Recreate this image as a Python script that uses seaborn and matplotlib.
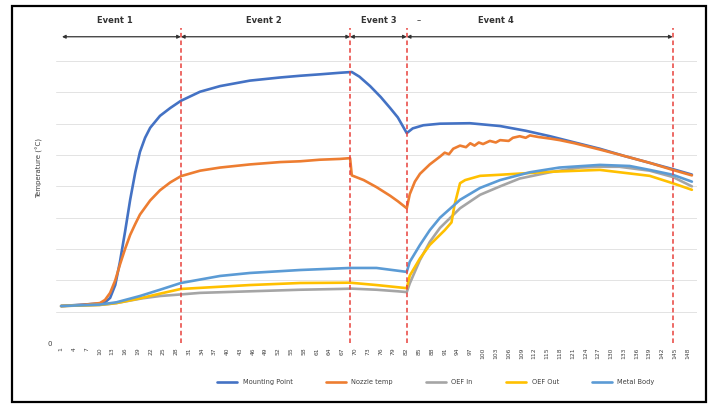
import matplotlib
matplotlib.use("Agg")
import matplotlib.pyplot as plt
from matplotlib.patches import Rectangle
import seaborn as sns

sns.set_style("white")
plt.rcParams["font.family"] = ["DejaVu Sans"]

# ---- data (sample index vs temperature) ----
mount_x = [1, 6, 10, 11.3, 12.5, 13.7, 14.8, 16, 17.2, 18.4, 19.5, 20.7, 21.9, 24.2, 26.6, 29.1,
           33.6, 38.3, 45.3, 52.4, 57.1, 61.7, 66.4, 69.2, 71, 73.5, 76, 78.2, 80, 82.1, 83.5,
           86, 89.9, 96.9, 104, 110, 115.7, 121.5, 127.4, 133, 139.1, 144.5, 149]
mount_y = [23.6, 24.5, 25.2, 26, 28.8, 37, 51.8, 71, 91.4, 109, 122, 131, 137.4, 145, 150, 154.6,
           160.4, 164, 167.5, 169.5, 170.6, 171.5, 172.5, 173, 170, 164, 157, 150, 144, 134, 137,
           139, 140, 140.3, 138.5, 135.5, 132, 128, 124, 119.5, 115, 111, 107.5]

nozzle_x = [1, 6, 10.1, 11.3, 12.5, 13.7, 14.8, 16, 17.2, 18.4, 19.5, 21.9, 24.2, 26.6, 29.1, 33.6,
            38.3, 45.3, 52.4, 57.1, 61.7, 66.4, 68.8, 69.2, 72, 75, 78.2, 80, 82.1, 82.8, 84,
            85.2, 87.5, 89.9, 91, 92, 93, 94.6, 96, 97, 98, 99, 100, 101.6, 103, 104, 106,
            107, 108.6, 110, 111, 113, 115.7, 118, 121.5, 127.4, 133, 139.1, 144.5, 149]
nozzle_y = [23.6, 24.3, 25.5, 27.5, 32, 40, 50, 60, 69, 76, 82, 91, 97.5, 102.5, 106.5, 110,
            112, 114, 115.5, 116, 117, 117.5, 118, 107, 104, 99.5, 94, 90.5, 86, 95, 103,
            108, 114, 119, 121.5, 120.5, 124, 126, 125, 127.5, 126, 128, 127, 129, 128, 129.5, 129,
            131, 132, 131, 132.5, 131.5, 130.5, 129.5, 127.5, 123.5, 119.5, 115, 110.5, 107]

oef_in_x = [1, 10, 12, 14, 17, 20, 24.2, 29.1, 33.6, 45.3, 57.1, 66.4, 69.2, 75, 80, 82.1,
            82.8, 85.2, 87.5, 89.9, 94.6, 99.3, 104, 108.6, 115.7, 122.7, 127.4, 132, 139.1,
            144.5, 149]
oef_in_y = [23.6, 24.3, 24.8, 25.5, 27, 28.5, 30, 31, 32, 33, 34, 34.5, 34.7, 34, 33, 32.5,
            38, 53, 64.5, 73.5, 86, 94.6, 100, 105, 109, 112, 112.5, 112.5, 110, 106, 100]

oef_out_x = [1, 10, 14, 19.5, 24.2, 29.1, 45.3, 57.1, 68.8, 75, 82.1, 82.8, 85.2, 87.5, 91,
             92.6, 93.3, 94.6, 95.8, 99.3, 104, 115.7, 127.4, 139.1, 144.5, 149]
oef_out_y = [23.6, 24.3, 25.5, 28.5, 31.5, 34.5, 37, 38.3, 38.5, 37, 35, 43, 54, 62.6, 72,
             77, 88, 102, 104, 106.7, 107.4, 109.3, 110.5, 106.7, 102, 97.8]

metal_x = [1, 10, 14, 19.5, 24.2, 29.1, 38.3, 45.3, 57.1, 68.8, 75, 82.1, 82.8, 85.2, 87.5,
           89.9, 94.6, 99.3, 104, 111, 117.9, 127.4, 134.4, 139.1, 144.5, 149]
metal_y = [23.6, 24.5, 26, 30, 34, 38.3, 42.8, 44.7, 46.6, 47.9, 47.9, 45.4, 51.8, 62.6, 72,
           80, 91.4, 99, 104, 109, 112, 113.7, 113, 110.5, 107.4, 103]

series = [
    ("Mounting Point", mount_x, mount_y, "#4472C4"),
    ("Nozzle temp", nozzle_x, nozzle_y, "#ED7D31"),
    ("OEF In", oef_in_x, oef_in_y, "#A5A5A5"),
    ("OEF Out", oef_out_x, oef_out_y, "#FFC000"),
    ("Metal Body", metal_x, metal_y, "#5B9BD5"),
]

tick_labels = [str(v) for v in range(1, 149, 3)]
tick_pos = list(range(1, 149, 3))

event_bounds = [1.2, 29.1, 68.8, 82.1, 144.5]
event_names = ["Event 1", "Event 2", "Event 3", "Event 4"]
event_label_x = [13.5, 48.5, 75.5, 103]

# ---- figure ----
fig = plt.figure(figsize=(7.13, 4.08), dpi=100)
ax = fig.add_axes([56 / 713, 65 / 408, 641 / 713, 318 / 408])

for name, xs, ys, col in series:
    sns.lineplot(x=xs, y=ys, ax=ax, color=col, linewidth=1.9, label=name, legend=False)

ax.set_xlim(-0.2, 150.2)
ax.set_ylim(0, 203)
ax.set_yticks(range(0, 181, 20))
ax.set_yticklabels(["0"] + [""] * 9, fontsize=5, color="#404040")
ax.set_xticks(tick_pos)
ax.set_xticklabels(tick_labels, rotation=90, fontsize=4.3, color="#404040")
ax.tick_params(axis="both", length=0, pad=3)
ax.grid(axis="y", color="#e3e3e3", linewidth=0.7)
for s in ax.spines.values():
    s.set_visible(False)
ax.set_ylabel("Temperature (°C)", fontsize=5, color="#404040")
ax.yaxis.set_label_coords(-0.02, 0.55)

# red event boundaries
for xv in event_bounds[1:]:
    ax.plot([xv, xv], [0, 201], color="#E8413C", linestyle=(0, (3, 2)),
            linewidth=1.1, clip_on=False, zorder=5)

# event arrows + labels
for i, name in enumerate(event_names):
    ax.annotate("", xy=(event_bounds[i + 1], 195.5), xytext=(event_bounds[i], 195.5),
                arrowprops=dict(arrowstyle="<|-|>", color="#333333", lw=0.9,
                                mutation_scale=5, shrinkA=0, shrinkB=0))
    ax.text(event_label_x[i], 206, name, ha="center", va="center", fontsize=6,
            fontweight="bold", color="#333333", clip_on=False)
ax.text(85, 206, "–", ha="center", va="center", fontsize=6, color="#333333", clip_on=False)

handles, labels = ax.get_legend_handles_labels()
fig.legend(handles, labels, loc="center", bbox_to_anchor=(436 / 713, 1 - 382 / 408),
           ncol=5, frameon=False, fontsize=4.8, handlelength=3, columnspacing=5,
           labelcolor="#404040")

# outer frame
fig.patches.append(Rectangle((12 / 713, 6 / 408), 694 / 713, 396 / 408,
                             transform=fig.transFigure, fill=False,
                             edgecolor="black", linewidth=1.6))

fig.savefig("out.png", dpi=100)
